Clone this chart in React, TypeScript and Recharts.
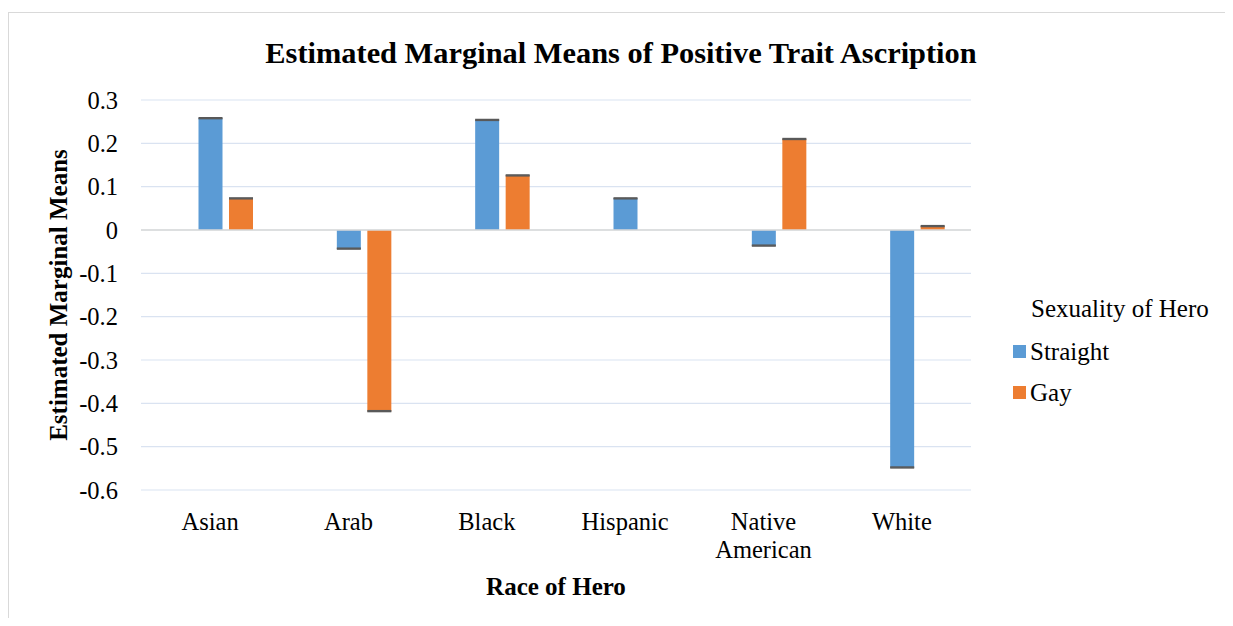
import React from 'react';
import { BarChart, Bar, XAxis, YAxis, CartesianGrid, ReferenceLine, Legend, ErrorBar } from 'recharts';

const races = ['Asian', 'Arab', 'Black', 'Hispanic', 'Native American', 'White'];
const straightMeans = [0.258, -0.043, 0.254, 0.073, -0.036, -0.548];
const gayMeans: (number | null)[] = [0.073, -0.418, 0.126, null, 0.21, 0.009];
const straightErr = [0.001, 0.001, 0.001, 0.001, 0.001, 0.001];
const gayErr: (number | null)[] = [0.001, 0.001, 0.001, null, 0.001, 0.001];
const yTicks = [0.3, 0.2, 0.1, 0, -0.1, -0.2, -0.3, -0.4, -0.5, -0.6];
const seriesNames = ['Straight', 'Gay'];

const data = races.map((race, i) => ({
    race,
    straight: straightMeans[i],
    gay: gayMeans[i],
    straightErr: straightErr[i],
    gayErr: gayErr[i],
}));

const SERIF = '"Liberation Serif", "Times New Roman", serif';

const RaceTick = (props: any) => {
    const { x, y, payload } = props;
    const lines = String(payload.value).split(' ');
    return (
        <text x={x} y={y} textAnchor="middle" fill="#000" fontSize={24.5} fontFamily={SERIF}>
            {lines.map((line, i) => (
                <tspan key={i} x={x} dy={i === 0 ? 40 : 28}>{line}</tspan>
            ))}
        </text>
    );
};

const YTitle = (props: any) => {
    const { viewBox } = props;
    const cx = viewBox.x + 58;
    const cy = viewBox.y + viewBox.height / 2;
    return (
        <text
            x={cx}
            y={cy}
            transform={`rotate(-90, ${cx}, ${cy})`}
            textAnchor="middle"
            fill="#000"
            fontSize={25}
            fontWeight="bold"
            fontFamily={SERIF}
        >
            Estimated Marginal Means
        </text>
    );
};

const LegendBox = (props: any) => {
    const items = (props.payload || [])
        .filter((p: any) => p.type !== 'none')
        .sort((a: any, b: any) => seriesNames.indexOf(a.value) - seriesNames.indexOf(b.value));
    return (
        <div style={{ fontFamily: SERIF, fontSize: 25, color: '#000' }}>
            <div style={{ paddingLeft: 18, lineHeight: '44px', whiteSpace: 'nowrap' }}>Sexuality of Hero</div>
            {items.map((p: any) => (
                <div key={p.value} style={{ display: 'flex', alignItems: 'center', height: 41, lineHeight: '41px' }}>
                    <span style={{ display: 'inline-block', width: 13, height: 13, background: p.color, marginRight: 4 }} />
                    <span>{p.value}</span>
                </div>
            ))}
        </div>
    );
};

export default function App() {
    return (
        <div
            style={{
                position: 'relative',
                marginTop: 4,
                width: 1224,
                height: 605,
                borderTop: '1px solid #d9d9d9',
                borderLeft: '1px solid #d9d9d9',
                background: '#fff',
            }}
        >
            <BarChart
                width={1224}
                height={605}
                data={data}
                margin={{ top: 87, right: 262, bottom: 18, left: 0 }}
                barSize={24}
                barGap={6.5}
            >
                <CartesianGrid vertical={false} stroke="#dae3f1" strokeWidth={1.2} />
                <XAxis
                    dataKey="race"
                    interval={0}
                    height={110}
                    axisLine={false}
                    tickLine={false}
                    tickSize={0}
                    tickMargin={0}
                    tick={<RaceTick />}
                    label={{
                        value: 'Race of Hero',
                        position: 'insideBottom',
                        offset: 5,
                        fill: '#000',
                        fontSize: 25,
                        fontWeight: 'bold',
                        fontFamily: SERIF,
                    }}
                />
                <YAxis
                    width={132}
                    domain={[-0.6, 0.3]}
                    ticks={yTicks}
                    interval={0}
                    axisLine={false}
                    tickLine={false}
                    tickSize={0}
                    tickMargin={23}
                    tickFormatter={(v: number) => (v === 0 ? '0' : v.toFixed(1))}
                    tick={{ fill: '#000', fontSize: 24.5, fontFamily: SERIF }}
                    label={<YTitle />}
                />
                <ReferenceLine y={0} stroke="#d9d9d9" strokeWidth={1.6} />
                <Bar dataKey="spacer" legendType="none" fill="transparent" isAnimationActive={false} />
                <Bar dataKey="straight" name="Straight" fill="#5b9bd5" isAnimationActive={false}>
                    <ErrorBar dataKey="straightErr" width={12} stroke="#595959" strokeWidth={1.5} direction="y" isAnimationActive={false} />
                </Bar>
                <Bar dataKey="gay" name="Gay" fill="#ed7d31" isAnimationActive={false}>
                    <ErrorBar dataKey="gayErr" width={12} stroke="#595959" strokeWidth={1.5} direction="y" isAnimationActive={false} />
                </Bar>
                <Legend
                    layout="vertical"
                    align="center"
                    verticalAlign="middle"
                    content={<LegendBox />}
                    wrapperStyle={{ left: 1004, top: 274, width: 215 }}
                />
            </BarChart>
            <div
                style={{
                    position: 'absolute',
                    left: 0,
                    top: 24.5,
                    width: 1224,
                    textAlign: 'center',
                    fontFamily: SERIF,
                    fontSize: 30.4,
                    fontWeight: 'bold',
                    lineHeight: 1,
                    color: '#000',
                    whiteSpace: 'nowrap',
                }}
            >
                Estimated Marginal Means of Positive Trait Ascription
            </div>
        </div>
    );
}
